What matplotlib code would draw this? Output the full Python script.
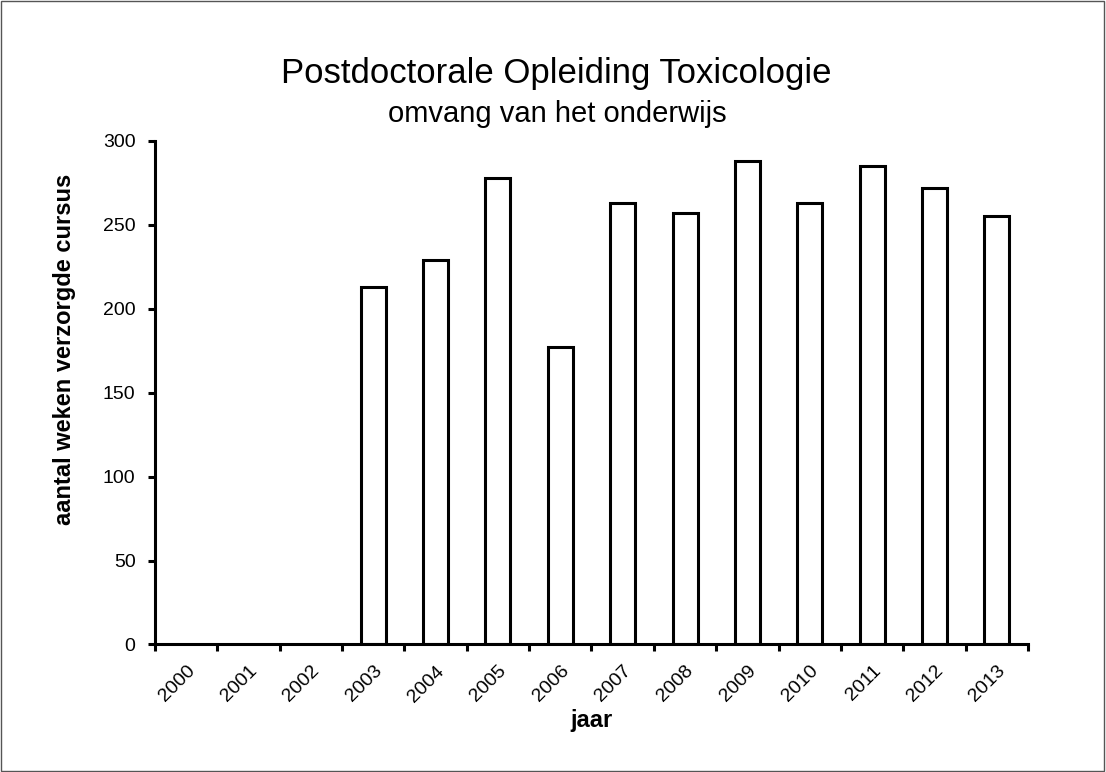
import matplotlib
matplotlib.use("Agg")
import matplotlib.pyplot as plt
import matplotlib.transforms as mtransforms
from matplotlib.patches import Rectangle
import numpy as np

years = ["2000", "2001", "2002", "2003", "2004", "2005", "2006",
         "2007", "2008", "2009", "2010", "2011", "2012", "2013"]
weeks = [0, 0, 0, 213, 229, 278, 177, 263, 257, 288, 263, 285, 272, 255]
yticks = [0, 50, 100, 150, 200, 250, 300]

plt.rcParams['font.family'] = ['Liberation Sans', 'DejaVu Sans']

fig = plt.figure(figsize=(11.06, 7.72), dpi=100)
fig.patches.append(Rectangle((0.0005, 0.0007), 0.998, 0.998, transform=fig.transFigure,
                             fill=False, edgecolor='#555555', linewidth=1))
ax = fig.add_axes([0.1401, 0.1652, 0.7894, 0.6522])

x = np.arange(len(years))
for xi, v in zip(x, weeks):
    if v > 0:
        ax.bar(xi + 0.5, v, width=0.4, color='white', edgecolor='black', linewidth=2.2)

ax.set_xlim(0, len(years))
ax.set_ylim(0, 300)
ax.set_xticks(np.arange(len(years) + 1))
ax.set_xticklabels([])
ax.set_xticks(x + 0.5, minor=True)
ax.set_xticklabels(years, minor=True, rotation=45, ha='right', va='top',
                   rotation_mode='anchor', fontsize=14)
offset = mtransforms.ScaledTranslation(6 / 100, 0, fig.dpi_scale_trans)
for lab in ax.get_xticklabels(minor=True):
    lab.set_transform(lab.get_transform() + offset)
ax.tick_params(axis='x', which='minor', length=0, pad=13)
ax.tick_params(axis='x', which='major', direction='out', length=5, width=2.2)
ax.set_yticks(yticks)
ax.set_yticklabels([str(t) for t in yticks], fontsize=14)
ax.tick_params(axis='y', direction='out', length=5, width=2.2, pad=9)

for s in ['top', 'right']:
    ax.spines[s].set_visible(False)
for s in ['left', 'bottom']:
    ax.spines[s].set_linewidth(2.2)

fig.text(65 / 1106, 1 - 349 / 772, "aantal weken verzorgde cursus", rotation=90,
         ha='center', va='center', fontsize=17, fontweight='bold')
fig.text(591 / 1106, 1 - 721 / 772, "jaar", ha='center', va='center',
         fontsize=17, fontweight='bold')

fig.text(0.503, 1 - 74 / 772, "Postdoctorale Opleiding Toxicologie", ha='center', va='center', fontsize=25)
fig.text(0.504, 1 - 114 / 772, "omvang van het onderwijs", ha='center', va='center', fontsize=21)

fig.savefig("out.png", dpi=100)
